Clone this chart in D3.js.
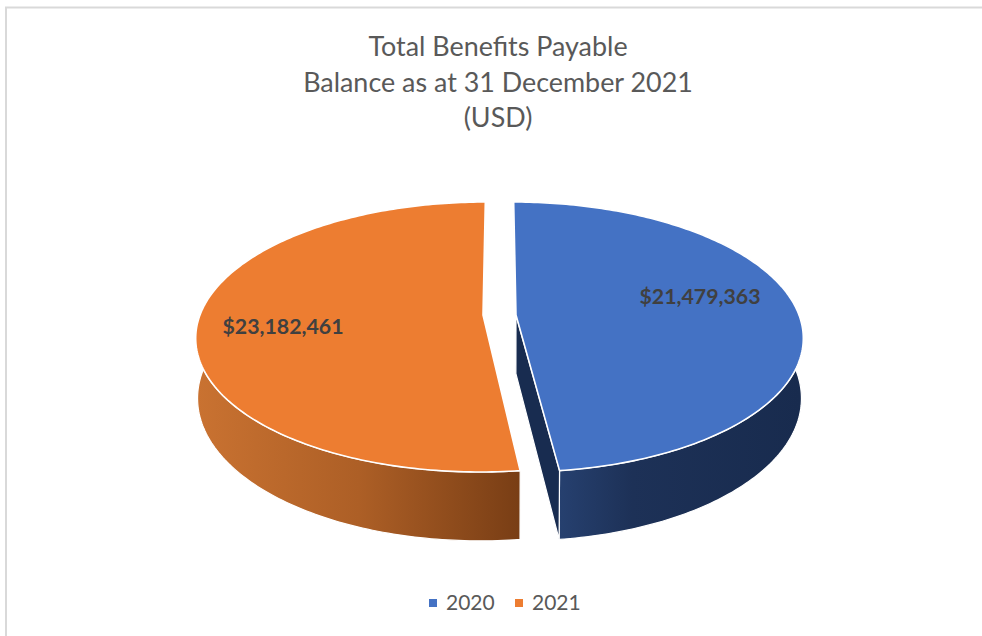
<!DOCTYPE html>
<html>
<head>
<meta charset="utf-8">
<script src="https://cdn.jsdelivr.net/npm/d3@7"></script>
<style>
  html, body { margin: 0; padding: 0; background: #fff; }
  svg { display: block; }
  text { font-family: Lato, "Open Sans", sans-serif; }
</style>
</head>
<body>
<svg id="svg" width="982" height="636"></svg>
<script>
"use strict";

const categories = ["2020", "2021"];
const values = [21479363, 23182461];
const valueLabels = ["$21,479,363", "$23,182,461"];
const titleLines = ["Total Benefits Payable", "Balance as at 31 December 2021", "(USD)"];
const topColors = ["#4472C4", "#ED7D31"];

// perspective set up, fitted to the picture
const centerX = 499.5;
const centerY = 315;
const radiusX = 283;
const radiusY = 131.4;
const perspective = 0.163;
const depthY = 59;
const depthScale = 0.006;
const explode = [16.5, -16.5];

var svg = d3.select("svg");

var pieData = d3.pie().sort(null).value(d => d)(values);

var color = d3.scaleOrdinal().domain(categories).range(topColors);

// angle and radius fraction on the pie -> screen position. z is 0 on top, 1 on the bottom
function project(i, angle, r, z) {
    var u = r * Math.sin(angle);
    var v = -r * Math.cos(angle);
    var w = 1 - perspective * v + depthScale * z;
    return [
        centerX + (explode[i] + radiusX * u) / w,
        centerY + (radiusY * v + depthY * z) / w
    ];
}

function arcPoints(i, a0, a1, z) {
    var n = Math.max(2, Math.ceil((a1 - a0) * 60));
    return d3.range(n + 1).map(k => project(i, a0 + (a1 - a0) * k / n, 1, z));
}

var line = d3.line().curve(d3.curveLinear);

var defs = svg.append("defs");

var wallStops = [
    [{o: 0, c: "#26406F"}, {o: 0.3, c: "#1D3157"}, {o: 1, c: "#182B4E"}],
    [{o: 0, c: "#C97231"}, {o: 0.5, c: "#AD5F26"}, {o: 1, c: "#793E15"}]
];
var wallRange = [[560, 800], [198, 519]];

wallStops.forEach(function(stops, i) {
    defs.append("linearGradient")
        .attr("id", "wall" + i)
        .attr("gradientUnits", "userSpaceOnUse")
        .attr("x1", wallRange[i][0]).attr("x2", wallRange[i][1])
        .attr("y1", 0).attr("y2", 0)
        .selectAll("stop")
        .data(stops)
        .enter()
        .append("stop")
            .attr("offset", d => d.o)
            .attr("stop-color", d => d.c);
});

// frame of the chart area
svg.append("path")
    .attr("d", "M6,636V7.5H982")
    .attr("fill", "none")
    .attr("stroke", "#D9D9D9")
    .attr("stroke-width", 2);

// title
svg.append("g")
    .selectAll("text")
    .data(titleLines)
    .enter()
    .append("text")
        .attr("x", 498)
        .attr("y", (d, i) => 56 + i * 35.5)
        .attr("text-anchor", "middle")
        .attr("font-size", 26.9)
        .attr("fill", "#595959")
        .text(d => d);

var pieGroup = svg.append("g");

// outer walls
pieGroup.selectAll(".wall")
    .data(pieData)
    .enter()
    .append("path")
        .attr("class", "wall")
        .attr("fill", (d, i) => "url(#wall" + i + ")")
        .attr("stroke", "#fff")
        .attr("stroke-width", 1.2)
        .attr("stroke-linejoin", "round")
        .attr("d", function(d, i) {
            var a0 = d.startAngle, a1 = d.endAngle;
            var pts = arcPoints(i, a0, a1, 0).concat(arcPoints(i, a0, a1, 1).reverse());
            return line(pts) + "Z";
        });

// the cut face of the first slice is the only one the camera sees
pieGroup.append("path")
    .attr("fill", "#182C50")
    .attr("stroke", "#fff")
    .attr("stroke-width", 1.2)
    .attr("stroke-linejoin", "round")
    .attr("d", function() {
        var a = pieData[0].endAngle;
        return line([
            project(0, a, 0, 0), project(0, a, 1, 0),
            project(0, a, 1, 1), project(0, a, 0, 1)
        ]) + "Z";
    });

// top faces
pieGroup.selectAll(".top")
    .data(pieData)
    .enter()
    .append("path")
        .attr("class", "top")
        .attr("fill", (d, i) => color(categories[i]))
        .attr("stroke", "#fff")
        .attr("stroke-width", 1.6)
        .attr("stroke-linejoin", "round")
        .attr("d", function(d, i) {
            var pts = [project(i, d.startAngle, 0, 0)].concat(arcPoints(i, d.startAngle, d.endAngle, 0));
            return line(pts) + "Z";
        });

// data labels
var labelX = [700, 283];
var labelY = [304, 334];

svg.append("g")
    .selectAll("text")
    .data(valueLabels)
    .enter()
    .append("text")
        .attr("x", (d, i) => labelX[i])
        .attr("y", (d, i) => labelY[i])
        .attr("text-anchor", "middle")
        .attr("font-size", 21.3)
        .attr("font-weight", "bold")
        .attr("fill", "#404040")
        .text(d => d);

// legend
var legendX = [429, 515];

var legend = svg.append("g")
    .selectAll("g")
    .data(categories)
    .enter()
    .append("g")
        .attr("transform", (d, i) => "translate(" + legendX[i] + ",599)");

legend.append("rect")
    .attr("width", 8)
    .attr("height", 8)
    .attr("fill", d => color(d));

legend.append("text")
    .attr("x", 17)
    .attr("y", 11)
    .attr("font-size", 21)
    .attr("fill", "#595959")
    .text(d => d);
</script>
</body>
</html>
